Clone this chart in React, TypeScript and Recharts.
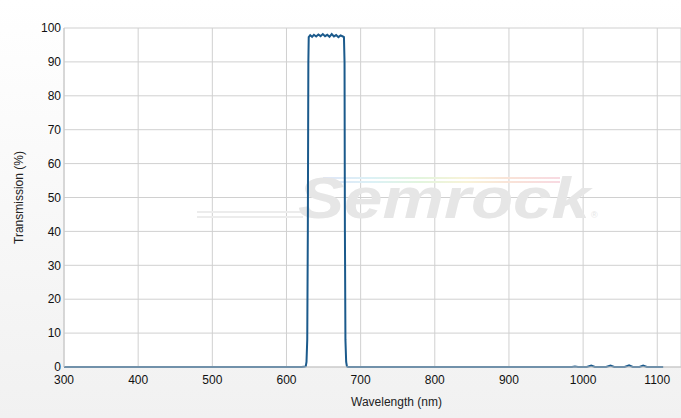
import { LineChart, Line, XAxis, YAxis, CartesianGrid, Customized } from "recharts";

// Filter transmission spectrum
const WAVELENGTH = [
  300, 400, 500, 600, 620, 624, 626, 627, 628, 628.8, 629.5, 630,
  632, 634.5, 637, 640, 643, 646, 649, 652, 655, 658, 661, 664, 667, 670, 673, 676,
  677.5, 678.3, 678.8, 679.5, 680.5, 681.5, 683, 700, 800, 900, 985, 989, 993,
  1005, 1011, 1016, 1031, 1037, 1042, 1056, 1062, 1067, 1076, 1081, 1086, 1108,
];
const TRANSMISSION = [
  0, 0, 0, 0, 0, 0.05, 0.2, 1.5, 8, 40, 90, 97.3,
  97.9, 97.4, 98.0, 97.5, 98.1, 97.6, 98.2, 97.6, 98.0, 97.4, 98.2, 97.5, 97.9, 97.3, 97.8, 97.5,
  97.3, 90, 40, 8, 1.5, 0.2, 0, 0, 0, 0, 0, 0.15, 0,
  0, 0.45, 0, 0, 0.4, 0, 0, 0.5, 0, 0, 0.4, 0, 0,
];

const X_TICKS = [300, 400, 500, 600, 700, 800, 900, 1000, 1100];
const Y_TICKS = [0, 10, 20, 30, 40, 50, 60, 70, 80, 90, 100];

const data = WAVELENGTH.map((w, i) => ({ wl: w, t: TRANSMISSION[i] }));

const FONT = "'Liberation Sans', Arial, sans-serif";
const TICK = { fontSize: 12, fontFamily: FONT, fill: "#111" };
const RAINBOW = ["#dfe6f8", "#dcf1f6", "#e2f5de", "#f8f3d8", "#f9e2d8", "#f8dae2"];

// faint "Semrock" watermark behind the curve
const Watermark = () => (
  <g>
    <defs>
      <linearGradient id="rainbow" x1="0" y1="0" x2="1" y2="0">
        {RAINBOW.map((c, i) => (
          <stop key={c} offset={`${(i / (RAINBOW.length - 1)) * 100}%`} stopColor={c} />
        ))}
      </linearGradient>
    </defs>
    <rect x={323} y={177} width={237} height={2} fill="url(#rainbow)" />
    <rect x={326} y={181} width={234} height={2} fill="url(#rainbow)" />
    <rect x={197} y={211} width={108} height={2} fill="#ececec" />
    <rect x={197} y={216} width={106} height={2} fill="#ececec" />
    <text
      x={298}
      y={218}
      fontFamily={FONT}
      fontStyle="italic"
      fontWeight="bold"
      fontSize={57}
      fill="#e6e6e6"
      textLength={292}
      lengthAdjust="spacingAndGlyphs"
    >
      Semrock
    </text>
    <text x={591} y={218} fontFamily={FONT} fontSize={9} fill="#e6e6e6">®</text>
  </g>
);

export default function App() {
  return (
    <div
      style={{
        position: "absolute",
        left: 0,
        top: 0,
        width: 681,
        height: 418,
        background: "linear-gradient(#ffffff, #f1f1f1)",
      }}
    >
      <LineChart width={681} height={418} data={data} margin={{ top: 28, right: 0, bottom: 0, left: 0 }}>
        <CartesianGrid stroke="#d0d0d0" fill="#ffffff" />
        <Customized component={Watermark} />
        <XAxis
          dataKey="wl"
          type="number"
          domain={[300, 1132]}
          ticks={X_TICKS}
          allowDataOverflow
          height={51}
          tick={TICK}
          tickLine={false}
          tickSize={0}
          tickMargin={8}
          axisLine={{ stroke: "#c8c8c8" }}
          label={{
            value: "Wavelength (nm)",
            position: "insideBottom",
            offset: 12,
            dx: 24,
            style: { fontSize: 12, fontFamily: FONT, fill: "#222" },
          }}
        />
        <YAxis
          type="number"
          domain={[0, 100]}
          ticks={Y_TICKS}
          width={64}
          tick={TICK}
          tickLine={false}
          tickSize={0}
          tickMargin={3}
          axisLine={{ stroke: "#c8c8c8" }}
          label={{
            value: "Transmission (%)",
            angle: -90,
            position: "insideLeft",
            offset: 19,
            style: { fontSize: 12, fontFamily: FONT, fill: "#222", textAnchor: "middle" },
          }}
        />
        <Line
          type="linear"
          dataKey="t"
          stroke="#1b5a8c"
          strokeWidth={2}
          dot={false}
          isAnimationActive={false}
        />
      </LineChart>
    </div>
  );
}
